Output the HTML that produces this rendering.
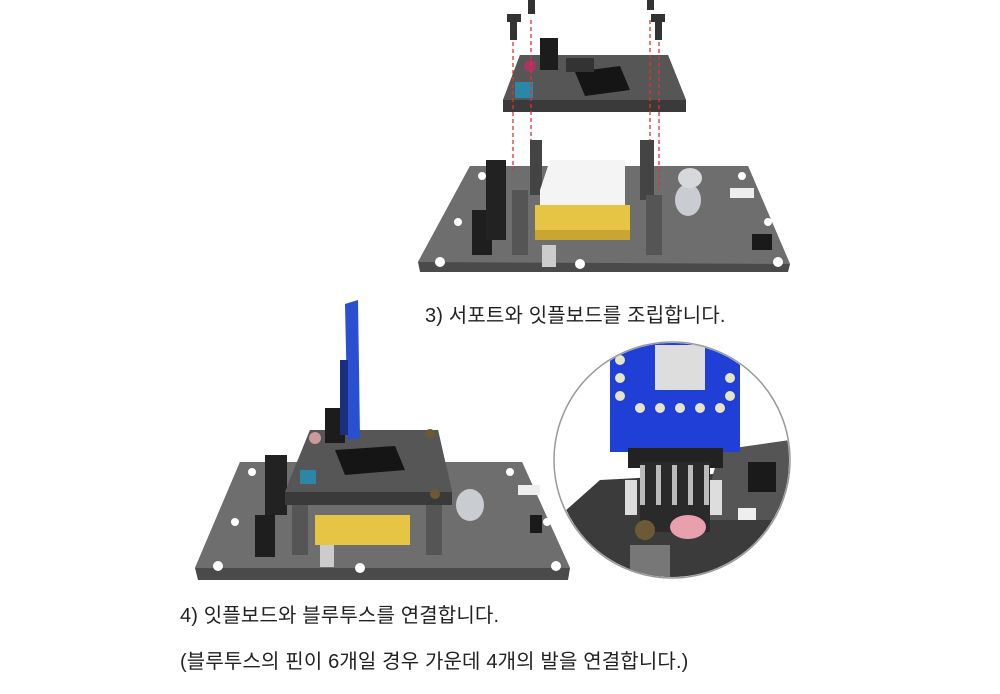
<!DOCTYPE html>
<html><head><meta charset="utf-8"><style>
html,body{margin:0;padding:0;background:#fff;}
body{width:1000px;height:694px;position:relative;overflow:hidden;font-family:"Liberation Sans","Noto Sans CJK KR",sans-serif;}
.t{position:absolute;font-size:20px;color:#222;white-space:nowrap;letter-spacing:0.15px;}
</style></head><body>
<svg width="1000" height="694" style="position:absolute;left:0;top:0">
<defs><clipPath id="c"><circle cx="672" cy="460" r="117"/></clipPath></defs>
<polygon points="418,262 470,166 748,166 790,264 788,272 420,272" fill="#4a4a4a"/>
<polygon points="418,262 470,166 748,166 790,264" fill="#6e6e6e"/>
<g fill="#fff"><circle cx="440" cy="262" r="5"/><circle cx="580" cy="264" r="5"/><circle cx="778" cy="262" r="5"/><circle cx="458" cy="222" r="4"/><circle cx="768" cy="222" r="4"/><circle cx="482" cy="176" r="4"/><circle cx="742" cy="176" r="4"/></g>
<rect x="472" y="210" width="20" height="45" fill="#1e1e1e"/>
<rect x="486" y="160" width="20" height="80" fill="#222"/>
<rect x="512" y="190" width="16" height="65" fill="#555"/>
<rect x="530" y="140" width="12" height="55" fill="#444"/>
<rect x="640" y="140" width="14" height="60" fill="#444"/>
<rect x="646" y="195" width="16" height="60" fill="#555"/>
<polygon points="540,190 550,160 625,160 625,205 540,205" fill="#f4f4f4"/>
<rect x="535" y="205" width="95" height="35" fill="#e6c545"/>
<rect x="535" y="230" width="95" height="10" fill="#caa530"/>
<ellipse cx="688" cy="200" rx="13" ry="16" fill="#c9ccd0"/>
<ellipse cx="690" cy="178" rx="12" ry="10" fill="#d6d8db"/>
<rect x="730" y="188" width="24" height="10" fill="#eee"/>
<rect x="752" y="234" width="20" height="16" fill="#1a1a1a"/>
<rect x="542" y="245" width="14" height="22" fill="#ccc"/>
<polygon points="503,100 520,55 668,55 686,100 686,112 503,112" fill="#3a3a3a"/>
<polygon points="503,100 520,55 668,55 686,100" fill="#565656"/>
<rect x="540" y="38" width="18" height="32" fill="#1c1c1c"/>
<rect x="515" y="82" width="18" height="16" fill="#2b86a8"/>
<polygon points="575,72 620,66 630,90 585,96" fill="#151515"/>
<rect x="566" y="58" width="28" height="14" fill="#333"/>
<circle cx="530" cy="66" r="6" fill="#a36"/>
<g stroke="#d33" stroke-width="1.3" stroke-dasharray="4,3" fill="none">
<line x1="513" y1="35" x2="513" y2="170"/><line x1="531" y1="20" x2="531" y2="140"/><line x1="650" y1="20" x2="650" y2="140"/><line x1="659" y1="35" x2="659" y2="190"/></g>
<g fill="#333"><rect x="507" y="14" width="14" height="8"/><rect x="510" y="22" width="7" height="18"/><rect x="528" y="0" width="7" height="14"/><rect x="647" y="0" width="7" height="10"/><rect x="651" y="14" width="14" height="8"/><rect x="655" y="22" width="7" height="18"/></g>
<polygon points="195,568 240,462 522,462 570,568 568,580 198,580" fill="#4a4a4a"/>
<polygon points="195,568 240,462 522,462 570,568" fill="#6e6e6e"/>
<g fill="#fff"><circle cx="218" cy="566" r="5"/><circle cx="360" cy="568" r="5"/><circle cx="556" cy="566" r="5"/><circle cx="235" cy="522" r="4"/><circle cx="547" cy="522" r="4"/><circle cx="252" cy="472" r="4"/><circle cx="510" cy="472" r="4"/></g>
<rect x="255" y="515" width="20" height="42" fill="#1e1e1e"/>
<rect x="265" y="455" width="22" height="60" fill="#222"/>
<rect x="292" y="500" width="16" height="55" fill="#555"/>
<rect x="426" y="500" width="16" height="55" fill="#555"/>
<rect x="315" y="515" width="95" height="30" fill="#e6c545"/>
<ellipse cx="470" cy="505" rx="14" ry="16" fill="#c9ccd0"/>
<rect x="518" y="485" width="22" height="10" fill="#eee"/>
<rect x="530" y="515" width="12" height="18" fill="#1a1a1a"/>
<rect x="320" y="545" width="14" height="22" fill="#ccc"/>
<polygon points="285,492 310,430 438,430 452,492 452,505 285,505" fill="#3a3a3a"/>
<polygon points="285,492 310,430 438,430 452,492" fill="#565656"/>
<rect x="325" y="408" width="20" height="35" fill="#1c1c1c"/>
<rect x="300" y="470" width="16" height="14" fill="#2b86a8"/>
<polygon points="335,450 395,446 405,470 345,475" fill="#151515"/>
<circle cx="315" cy="438" r="6" fill="#c99"/>
<circle cx="430" cy="434" r="5" fill="#6b5a35"/>
<circle cx="435" cy="494" r="5" fill="#6b5a35"/>
<polygon points="345,304 358,300 360,438 348,440" fill="#2a4fd0"/>
<rect x="340" y="360" width="8" height="75" fill="#1a2f80"/>
<circle cx="672" cy="460" r="118" fill="#fff" stroke="#999" stroke-width="1.5"/>
<g clip-path="url(#c)">
<polygon points="555,520 600,480 790,470 790,600 555,600" fill="#3b3b3b"/>
<polygon points="720,450 790,440 790,520 700,520" fill="#555"/>
<rect x="610" y="340" width="130" height="112" fill="#1f3fd6"/>
<rect x="655" y="345" width="50" height="45" fill="#ddd"/>
<g fill="#e8e4c8"><circle cx="620" cy="360" r="5"/><circle cx="620" cy="378" r="5"/><circle cx="620" cy="396" r="5"/><circle cx="730" cy="378" r="5"/><circle cx="730" cy="396" r="5"/><circle cx="640" cy="408" r="5"/><circle cx="660" cy="408" r="5"/><circle cx="680" cy="408" r="5"/><circle cx="700" cy="408" r="5"/><circle cx="720" cy="408" r="5"/></g>
<rect x="628" y="448" width="95" height="20" fill="#222"/>
<rect x="640" y="462" width="70" height="70" fill="#2a2a2a"/>
<g fill="#bbb"><rect x="640" y="465" width="5" height="40"/><rect x="656" y="465" width="5" height="40"/><rect x="672" y="465" width="5" height="40"/><rect x="688" y="465" width="5" height="40"/><rect x="704" y="465" width="5" height="40"/></g>
<rect x="625" y="480" width="12" height="35" fill="#ddd"/>
<rect x="710" y="480" width="12" height="35" fill="#ddd"/>
<ellipse cx="688" cy="527" rx="18" ry="12" fill="#e8a0ae"/>
<circle cx="645" cy="530" r="10" fill="#6b5a35"/>
<rect x="630" y="545" width="40" height="60" fill="#777"/>
<rect x="748" y="462" width="28" height="30" fill="#1a1a1a"/>
<rect x="738" y="508" width="18" height="12" fill="#eee"/>
</g>
</svg>
<div class="t" style="left:425px;top:299px">3) 서포트와 잇플보드를 조립합니다.</div>
<div class="t" style="left:180px;top:599px">4) 잇플보드와 블루투스를 연결합니다.</div>
<div class="t" style="left:180px;top:645px">(블루투스의 핀이 6개일 경우 가운데 4개의 발을 연결합니다.)</div>
</body></html>
